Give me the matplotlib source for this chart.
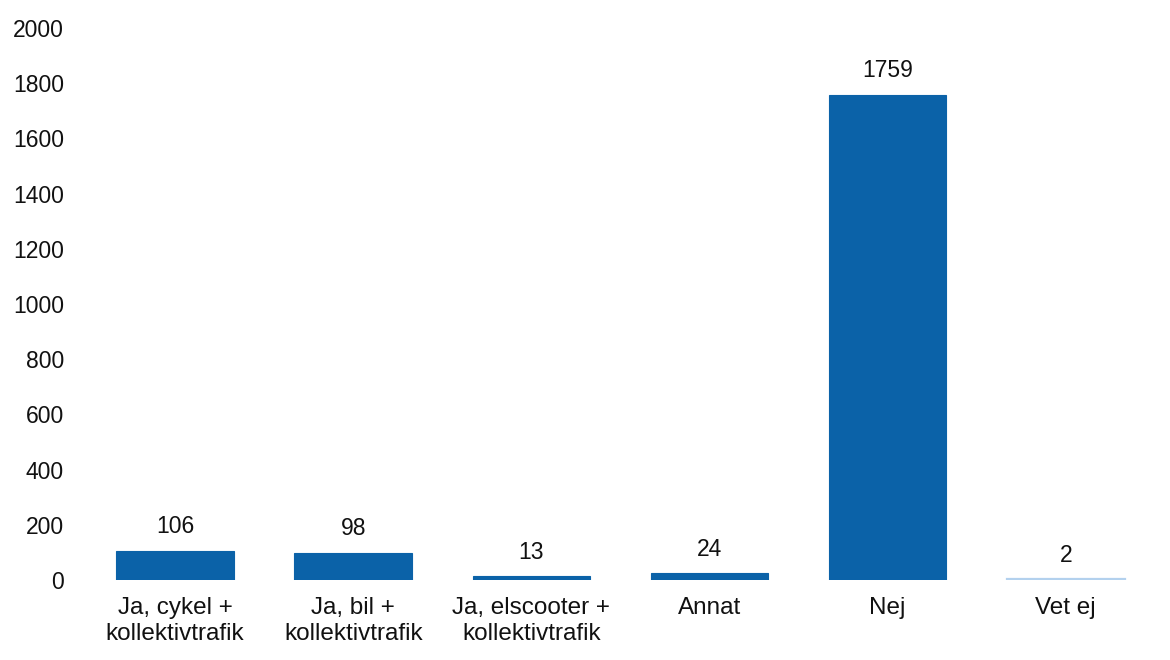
import matplotlib
matplotlib.use("Agg")
import matplotlib.pyplot as plt

categories = ["Ja, cykel +\nkollektivtrafik", "Ja, bil +\nkollektivtrafik",
              "Ja, elscooter +\nkollektivtrafik", "Annat", "Nej", "Vet ej"]
values = [106, 98, 13, 24, 1759, 2]
colors = ["#0B62A8", "#0B62A8", "#0B62A8", "#0B62A8", "#0B62A8", "#B3D1EE"]
yticks = [0, 200, 400, 600, 800, 1000, 1200, 1400, 1600, 1800, 2000]

plt.rcParams['font.family'] = ['Liberation Sans', 'DejaVu Sans']

fig = plt.figure(figsize=(11.7, 6.6), dpi=100)
ax = fig.add_axes([0.0735, 0.1212, 0.9135, 0.8364])

x = list(range(len(categories)))
bars = ax.bar(x, values, width=0.66, color=colors, edgecolor=colors,
              linewidth=[0.8, 0.8, 0.8, 0.8, 0.8, 1.6])
for xi, v in zip(x, values):
    ax.annotate(str(v), (xi, v), xytext=(0, 9), textcoords="offset points",
                ha="center", va="bottom", fontsize=16.5, color="#111111")

ax.set_xlim(-0.5, len(categories) - 0.5)
ax.set_ylim(0, 2000)
ax.set_yticks(yticks)
ax.set_yticklabels([str(t) for t in yticks], fontsize=16.5, color="#111111")
ax.set_xticks(x)
ax.set_xticklabels(categories, fontsize=17.5, color="#111111", linespacing=1.25)
ax.tick_params(axis="both", length=0)
ax.tick_params(axis="x", pad=12)
ax.tick_params(axis="y", pad=16)
for s in ax.spines.values():
    s.set_visible(False)

fig.savefig("out.png", dpi=100, facecolor="white")
